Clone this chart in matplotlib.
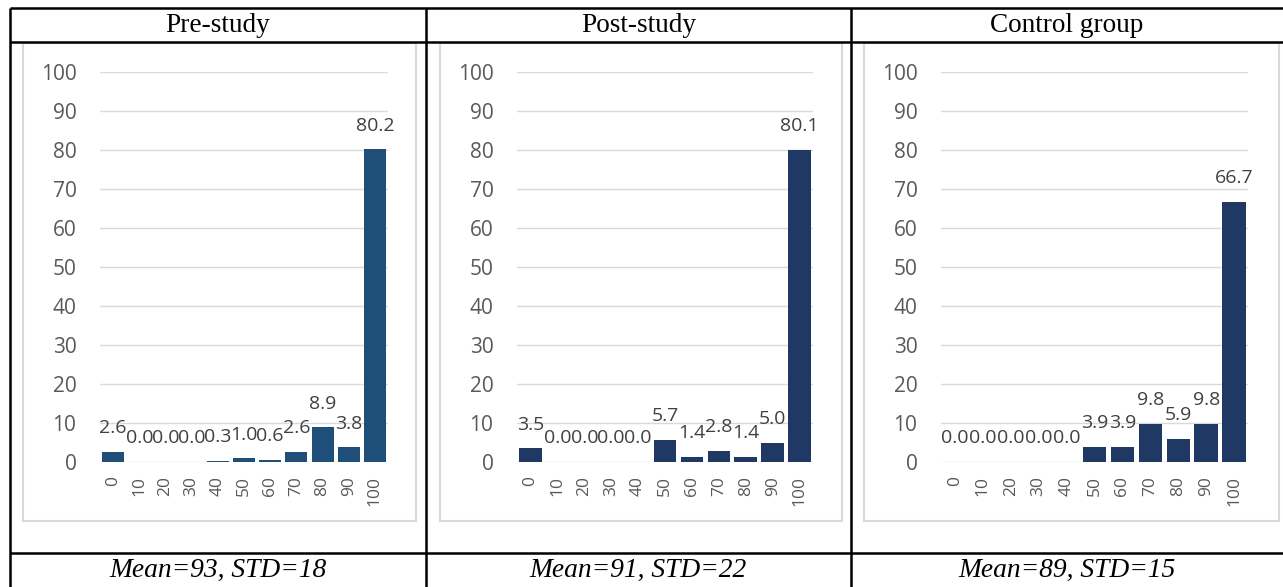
import matplotlib.pyplot as plt
from matplotlib.patches import Rectangle
from matplotlib.lines import Line2D

# score bins and share of answers (%) in each group
bins = [0, 10, 20, 30, 40, 50, 60, 70, 80, 90, 100]
pre_study = [2.6, 0.0, 0.0, 0.0, 0.3, 1.0, 0.6, 2.6, 8.9, 3.8, 80.2]
post_study = [3.5, 0.0, 0.0, 0.0, 0.0, 5.7, 1.4, 2.8, 1.4, 5.0, 80.1]
control = [0.0, 0.0, 0.0, 0.0, 0.0, 3.9, 3.9, 9.8, 5.9, 9.8, 66.7]

titles = ["Pre-study", "Post-study", "Control group"]
stats = ["Mean=93, STD=18", "Mean=91, STD=22", "Mean=89, STD=15"]
colors = ["#1F4E79", "#203864", "#203864"]

W, H = 1283, 587
fig = plt.figure(figsize=(W / 100, H / 100), dpi=100)
fig.patch.set_facecolor("white")

serif = "Liberation Serif"
sans = "Open Sans"


def px_axes(x0, y0, x1, y1):
    # pixel box (top-left origin) -> figure axes
    return fig.add_axes([x0 / W, 1 - y1 / H, (x1 - x0) / W, (y1 - y0) / H])


def hline(y, x0, x1, **kw):
    fig.add_artist(Line2D([x0 / W, x1 / W], [1 - y / H, 1 - y / H],
                          transform=fig.transFigure, **kw))


def vline(x, y0, y1, **kw):
    fig.add_artist(Line2D([x / W, x / W], [1 - y0 / H, 1 - y1 / H],
                          transform=fig.transFigure, **kw))


# table grid
tbl = dict(color="black", lw=1.8, solid_capstyle="butt")
hline(8, 10, W, **tbl)
hline(41.5, 10, W, **tbl)
hline(553, 10, W, **tbl)
vline(10, 8, H, **tbl)
vline(425.5, 8, H, **tbl)
vline(851, 8, H, **tbl)

col_edges = [10, 425.5, 851, W]
chart_boxes = [(23, 43, 416, 521), (440, 43, 842, 521), (864, 43, 1279, 521)]
plot_areas = [(100, 72, 388, 462), (517, 72, 813, 462), (941, 72, 1248, 462)]

for k, data in enumerate([pre_study, post_study, control]):
    cx = (col_edges[k] + col_edges[k + 1]) / 2
    fig.text(cx / W, 1 - 25 / H, titles[k], ha="center", va="center",
             family=serif, fontsize=19.6, color="black")
    fig.text(cx / W, 1 - 570 / H, stats[k], ha="center", va="center",
             family=serif, fontsize=19.8, style="italic", color="black")

    bx0, by0, bx1, by1 = chart_boxes[k]
    fig.add_artist(Rectangle((bx0 / W, 1 - by1 / H), (bx1 - bx0) / W, (by1 - by0) / H,
                             transform=fig.transFigure, fill=False,
                             edgecolor="#D9D9D9", lw=1.5))

    ax = px_axes(*plot_areas[k])
    pos = list(range(len(bins)))
    ax.bar(pos, data, width=0.84, color=colors[k], zorder=3)
    for i, v in enumerate(data):
        ax.annotate(f"{v:.1f}", (i, v), xytext=(0, 10.5), textcoords="offset points",
                    ha="center", va="bottom", family=sans, fontsize=14,
                    color="#404040", zorder=4)
    ax.set_xlim(-0.5, len(bins) - 0.5)
    ax.set_ylim(0, 100)
    ax.set_yticks(range(0, 101, 10))
    ax.set_xticks(pos)
    ax.set_xticklabels([str(b) for b in bins], rotation=90, family=sans,
                       fontsize=12.5, color="#595959")
    for lab in ax.get_yticklabels():
        lab.set_family(sans)
    ax.tick_params(axis="y", length=0, pad=17, labelsize=15, labelcolor="#595959")
    ax.tick_params(axis="x", length=0, pad=10)
    ax.grid(axis="y", color="#D9D9D9", lw=1.0, zorder=0)
    ax.set_axisbelow(True)
    for s in ax.spines.values():
        s.set_visible(False)
    ax.set_facecolor("none")

fig.savefig("out.png", dpi=100)
